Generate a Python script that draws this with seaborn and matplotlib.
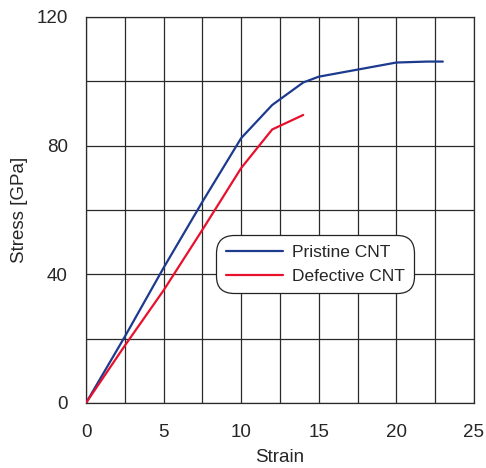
import matplotlib
matplotlib.use("Agg")
import matplotlib.pyplot as plt
from matplotlib.ticker import MultipleLocator
import seaborn as sns
import pandas as pd

# values
pristine_strain = [0, 2.5, 5, 7.5, 10, 12, 14, 15, 20, 22, 23]
pristine_stress = [0, 20.6, 42.0, 62.5, 82.3, 92.6, 99.6, 101.4, 105.8, 106.1, 106.1]
defective_strain = [0, 2.5, 5, 7.5, 10, 12, 14]
defective_stress = [0, 17.8, 35.0, 53.8, 73.0, 85.0, 89.5]
series_names = ["Pristine CNT", "Defective CNT"]
series_colors = ["#1c3a8e", "#e8112d"]

df = pd.concat([
    pd.DataFrame({"Strain": pristine_strain, "Stress": pristine_stress, "series": series_names[0]}),
    pd.DataFrame({"Strain": defective_strain, "Stress": defective_stress, "series": series_names[1]}),
], ignore_index=True)

sns.set_style("white")
plt.rcParams["font.family"] = ["Liberation Sans", "DejaVu Sans"]

fig = plt.figure(figsize=(4.86, 4.68), dpi=100)
ax = fig.add_axes([0.177, 0.139, 0.798, 0.825])

sns.lineplot(data=df, x="Strain", y="Stress", hue="series", hue_order=series_names,
             palette=dict(zip(series_names, series_colors)), linewidth=1.6,
             sort=False, estimator=None, ax=ax, zorder=3)

ax.set_xlim(0, 25)
ax.set_ylim(0, 120)
ax.xaxis.set_major_locator(MultipleLocator(5))
ax.xaxis.set_minor_locator(MultipleLocator(2.5))
ax.yaxis.set_major_locator(MultipleLocator(40))
ax.yaxis.set_minor_locator(MultipleLocator(20))

grid_color = "#2a2a2a"
ax.grid(True, which="both", color=grid_color, linewidth=0.9)
for s in ax.spines.values():
    s.set_color(grid_color)
    s.set_linewidth(0.9)

ax.tick_params(axis="both", which="major", direction="out", length=9, width=0.9,
               color=grid_color, labelsize=13.5, pad=4)
ax.tick_params(axis="both", which="minor", direction="out", length=5, width=0.9,
               color=grid_color)
ax.tick_params(axis="x", which="major", pad=6)

ax.set_xlabel("Strain", fontsize=13.5, labelpad=6)
ax.set_ylabel("Stress [GPa]", fontsize=13.5, labelpad=6)

leg = ax.legend(title=None, loc="upper left", bbox_to_anchor=(0.345, 0.425),
                fontsize=12.5, frameon=True, fancybox=True, edgecolor="#222222",
                framealpha=1, handlelength=3.3, handletextpad=0.5,
                borderpad=0.35, labelspacing=0.5, borderaxespad=0)
leg.get_frame().set_linewidth(0.9)
leg.get_frame().set_boxstyle("round", pad=0.2, rounding_size=1.0)

fig.savefig("out.png", dpi=100)
